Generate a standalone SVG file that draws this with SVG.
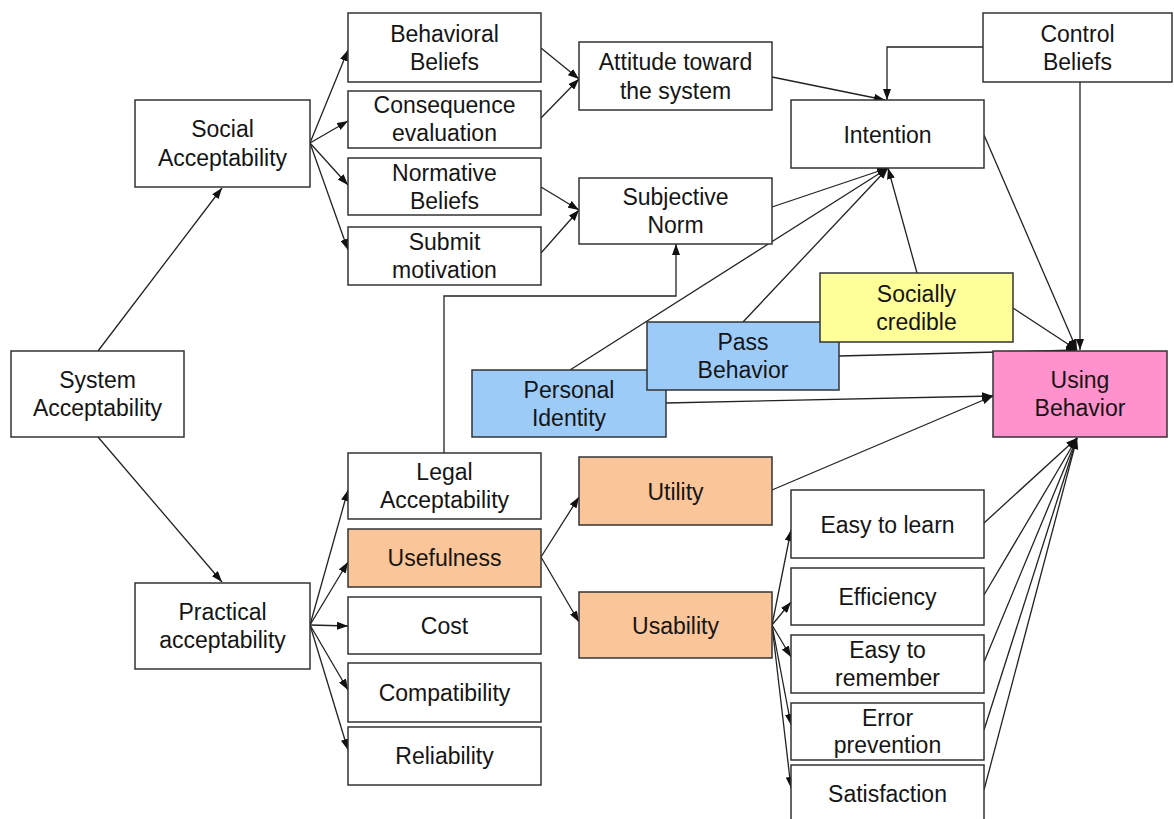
<svg xmlns="http://www.w3.org/2000/svg" width="1174" height="819" viewBox="0 0 1174 819">
<style>
.n rect{stroke:#333;stroke-width:1.5;fill:#fff}
.n.or rect{fill:#FAC598}
.n.bl rect{fill:#9DCBF7}
.n.ye rect{fill:#FFFF99}
.n.pk rect{fill:#FF91CC}
.n text{font-family:"Liberation Sans",Arial,sans-serif;font-size:23px;fill:#151515;text-anchor:middle}
#connectors path,#connectors line{stroke:#222;stroke-width:1.3;fill:none}
.a{marker-end:url(#ah)}
</style>
<defs>
<marker id="ah" markerUnits="userSpaceOnUse" markerWidth="11" markerHeight="8" refX="11" refY="4" orient="auto">
<path d="M0,0 L11,4 L0,8 z" fill="#111"/>
</marker>
</defs>
<rect width="1174" height="819" fill="#fff"/>

<g id="connectors">
<line class="a" x1="98" y1="351" x2="222" y2="188"/>
<line class="a" x1="98" y1="437" x2="222" y2="582"/>
<line class="a" x1="310" y1="143" x2="348" y2="50"/>
<line class="a" x1="310" y1="143" x2="348" y2="121"/>
<line class="a" x1="310" y1="143" x2="348" y2="185"/>
<line class="a" x1="310" y1="143" x2="348" y2="250"/>
<line class="a" x1="310" y1="625" x2="348" y2="490"/>
<line class="a" x1="310" y1="625" x2="348" y2="562"/>
<line class="a" x1="310" y1="625" x2="348" y2="626"/>
<line class="a" x1="310" y1="625" x2="348" y2="690"/>
<line class="a" x1="310" y1="625" x2="348" y2="750"/>
<line class="a" x1="541" y1="48" x2="579" y2="79"/>
<line class="a" x1="541" y1="118" x2="579" y2="79"/>
<line class="a" x1="541" y1="187" x2="579" y2="210"/>
<line class="a" x1="541" y1="253" x2="579" y2="210"/>
<line class="a" x1="772" y1="77" x2="885" y2="100"/>
<path class="a" d="M983,47 L887,47 L887,100"/>
<path class="a" d="M444,453 L444,296 L676,296 L676,244"/>
<line class="a" x1="772" y1="207" x2="888" y2="168"/>
<line class="a" x1="570" y1="370" x2="888" y2="168"/>
<line class="a" x1="743" y1="322" x2="888" y2="168"/>
<line class="a" x1="917" y1="273" x2="888" y2="168"/>
<line class="a" x1="984" y1="135" x2="1077" y2="350"/>
<line class="a" x1="1080" y1="82" x2="1080" y2="350"/>
<line class="a" x1="1013" y1="308" x2="1077" y2="350"/>
<line class="a" x1="839" y1="356" x2="1077" y2="350"/>
<line class="a" x1="666" y1="403" x2="993" y2="396"/>
<line class="a" x1="772" y1="490" x2="993" y2="396"/>
<line class="a" x1="541" y1="557" x2="579" y2="497"/>
<line class="a" x1="541" y1="557" x2="579" y2="622"/>
<line class="a" x1="772" y1="625" x2="791" y2="530"/>
<line class="a" x1="772" y1="625" x2="791" y2="602"/>
<line class="a" x1="772" y1="625" x2="791" y2="657"/>
<line class="a" x1="772" y1="625" x2="791" y2="725"/>
<line class="a" x1="772" y1="625" x2="791" y2="788"/>
<line class="a" x1="984" y1="523" x2="1077" y2="438"/>
<line class="a" x1="984" y1="595" x2="1077" y2="438"/>
<line class="a" x1="984" y1="662" x2="1077" y2="438"/>
<line class="a" x1="984" y1="730" x2="1077" y2="438"/>
<line class="a" x1="984" y1="790" x2="1077" y2="438"/>
</g>

<g id="system-acceptability" class="n"><rect x="11" y="351" width="173" height="86"/><text x="97.5" y="388">System</text><text x="97.5" y="416">Acceptability</text></g>
<g id="social-acceptability" class="n"><rect x="135" y="100" width="175" height="87"/><text x="222.5" y="137">Social</text><text x="222.5" y="166">Acceptability</text></g>
<g id="practical-acceptability" class="n"><rect x="135" y="583" width="175" height="86"/><text x="222.5" y="620">Practical</text><text x="222.5" y="648">acceptability</text></g>
<g id="behavioral-beliefs" class="n"><rect x="348" y="13" width="193" height="69"/><text x="444.5" y="42">Behavioral</text><text x="444.5" y="70">Beliefs</text></g>
<g id="consequence-evaluation" class="n"><rect x="348" y="91" width="193" height="57"/><text x="444.5" y="113">Consequence</text><text x="444.5" y="141">evaluation</text></g>
<g id="normative-beliefs" class="n"><rect x="348" y="158" width="193" height="57"/><text x="444.5" y="181">Normative</text><text x="444.5" y="209">Beliefs</text></g>
<g id="submit-motivation" class="n"><rect x="348" y="227" width="193" height="58"/><text x="444.5" y="250">Submit</text><text x="444.5" y="278">motivation</text></g>
<g id="attitude" class="n"><rect x="579" y="42" width="193" height="68"/><text x="675.5" y="70">Attitude toward</text><text x="675.5" y="99">the system</text></g>
<g id="subjective-norm" class="n"><rect x="579" y="178" width="193" height="66"/><text x="675.5" y="205">Subjective</text><text x="675.5" y="233">Norm</text></g>
<g id="intention" class="n"><rect x="791" y="100" width="193" height="68"/><text x="887.5" y="143">Intention</text></g>
<g id="control-beliefs" class="n"><rect x="983" y="13" width="189" height="69"/><text x="1077.5" y="42">Control</text><text x="1077.5" y="70">Beliefs</text></g>
<g id="personal-identity" class="n bl"><rect x="472" y="370" width="194" height="67"/><text x="569" y="398">Personal</text><text x="569" y="426">Identity</text></g>
<g id="pass-behavior" class="n bl"><rect x="647" y="322" width="192" height="68"/><text x="743" y="350">Pass</text><text x="743" y="378">Behavior</text></g>
<g id="socially-credible" class="n ye"><rect x="820" y="273" width="193" height="69"/><text x="916.5" y="302">Socially</text><text x="916.5" y="330">credible</text></g>
<g id="using-behavior" class="n pk"><rect x="993" y="351" width="174" height="86"/><text x="1080" y="388">Using</text><text x="1080" y="416">Behavior</text></g>
<g id="legal-acceptability" class="n"><rect x="348" y="453" width="193" height="66"/><text x="444.5" y="480">Legal</text><text x="444.5" y="508">Acceptability</text></g>
<g id="usefulness" class="n or"><rect x="348" y="529" width="193" height="58"/><text x="444.5" y="566">Usefulness</text></g>
<g id="cost" class="n"><rect x="348" y="597" width="193" height="57"/><text x="444.5" y="634">Cost</text></g>
<g id="compatibility" class="n"><rect x="348" y="663" width="193" height="59"/><text x="444.5" y="701">Compatibility</text></g>
<g id="reliability" class="n"><rect x="348" y="727" width="193" height="58"/><text x="444.5" y="764">Reliability</text></g>
<g id="utility" class="n or"><rect x="579" y="457" width="193" height="68"/><text x="675.5" y="500">Utility</text></g>
<g id="usability" class="n or"><rect x="579" y="592" width="193" height="66"/><text x="675.5" y="634">Usability</text></g>
<g id="easy-to-learn" class="n"><rect x="791" y="490" width="193" height="68"/><text x="887.5" y="533">Easy to learn</text></g>
<g id="efficiency" class="n"><rect x="791" y="568" width="193" height="57"/><text x="887.5" y="605">Efficiency</text></g>
<g id="easy-to-remember" class="n"><rect x="791" y="635" width="193" height="58"/><text x="887.5" y="658">Easy to</text><text x="887.5" y="686">remember</text></g>
<g id="error-prevention" class="n"><rect x="791" y="703" width="193" height="57"/><text x="887.5" y="726">Error</text><text x="887.5" y="753">prevention</text></g>
<g id="satisfaction" class="n"><rect x="791" y="765" width="193" height="58"/><text x="887.5" y="802">Satisfaction</text></g>
</svg>
